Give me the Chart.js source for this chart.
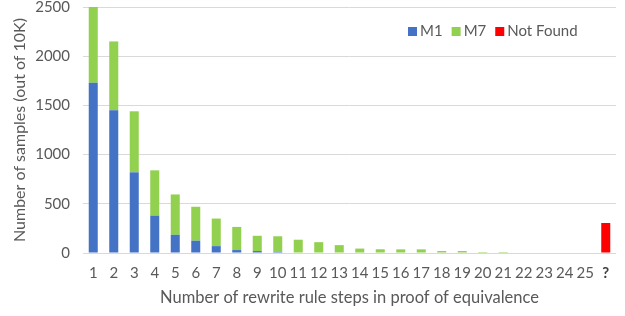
<!DOCTYPE html>
<html><head><meta charset="utf-8">
<script src="https://cdn.jsdelivr.net/npm/chart.js@4/dist/chart.umd.min.js"></script>
<style>html,body{margin:0;padding:0;background:#fff;}canvas{display:block;}</style>
</head><body>
<canvas id="c" width="625" height="316"></canvas>
<script>
const categories = ['1','2','3','4','5','6','7','8','9','10','11','12','13','14','15','16','17','18','19','20','21','22','23','24','25','?'];
const m1Values = [1730,1450,820,380,185,125,70,30,20,10,0,0,0,0,0,0,0,0,0,0,0,0,0,0,0,null];
const m7Values = [770,700,620,460,410,345,280,235,155,160,135,110,80,45,38,37,37,20,20,10,10,0,0,0,0,null];
const notFoundValues = [null,null,null,null,null,null,null,null,null,null,null,null,null,null,null,null,null,null,null,null,null,null,null,null,null,305];
const yTicks = [0,500,1000,1500,2000,2500];

const FONT = 'Lato';
const TXT = '#595959';

const legendPlugin = {
  id: 'insideLegend',
  afterDraw(chart) {
    const ctx = chart.ctx;
    ctx.save();
    ctx.font = '15px ' + FONT;
    ctx.textBaseline = 'middle';
    let x = 408;
    const y = 31.5;
    chart.data.datasets.forEach(ds => {
      ctx.fillStyle = ds.backgroundColor;
      ctx.fillRect(x, y - 4.5, 9, 9);
      x += 12;
      ctx.fillStyle = TXT;
      ctx.fillText(ds.label, x, y);
      x += ctx.measureText(ds.label).width + 9;
    });
    ctx.restore();
  }
};

new Chart(document.getElementById('c'), {
  type: 'bar',
  data: {
    labels: categories,
    datasets: [
      {label: 'M1', data: m1Values, backgroundColor: '#4472C4', stack: 's'},
      {label: 'M7', data: m7Values, backgroundColor: '#92D050', stack: 's'},
      {label: 'Not Found', data: notFoundValues, backgroundColor: '#FF0000', stack: 's'}
    ]
  },
  options: {
    responsive: false,
    animation: false,
    devicePixelRatio: 1,
    barPercentage: 0.44,
    categoryPercentage: 1.0,
    layout: {padding: {left: 0, right: 9, top: 7, bottom: 0}},
    plugins: {legend: {display: false}, tooltip: {enabled: false}},
    scales: {
      x: {
        stacked: true,
        grid: {display: false, drawTicks: false},
        border: {display: false},
        ticks: {
          padding: 11,
          maxRotation: 0,
          autoSkip: false,
          color: ctx => ctx.index === categories.length - 1 ? '#404040' : TXT,
          font: ctx => ctx.index === categories.length - 1 ? {family: FONT, size: 15, weight: 'bold'} : {family: FONT, size: 15}
        },
        title: {display: true, text: 'Number of rewrite rule steps in proof of equivalence', color: TXT, font: {family: FONT, size: 16.5}, padding: {top: 0, bottom: 8}},
        afterFit(s) { s.height = 63; s.paddingLeft = 0; s.paddingRight = 0; }
      },
      y: {
        stacked: true,
        min: 0, max: 2500,
        afterBuildTicks(s) { s.ticks = yTicks.map(v => ({value: v})); },
        grid: {color: '#D9D9D9', lineWidth: 1, drawTicks: false},
        border: {display: false},
        ticks: {padding: 13, color: TXT, font: {family: FONT, size: 15}, callback: v => String(v)},
        title: {display: true, text: 'Number of samples (out of 10K)', color: TXT, font: {family: FONT, size: 16}, padding: {top: 10, bottom: 0}},
        afterFit(s) { s.width = 83; s.paddingTop = 0; s.paddingBottom = 0; }
      }
    }
  },
  plugins: [legendPlugin]
});
</script>
</body></html>
